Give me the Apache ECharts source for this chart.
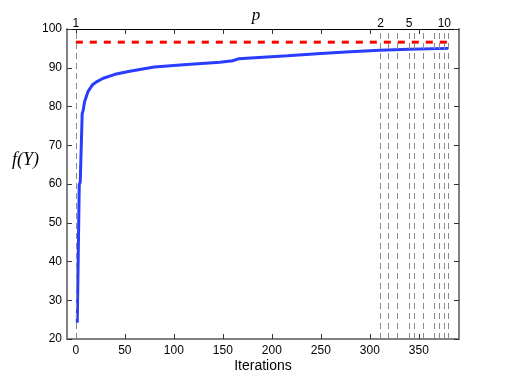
<!DOCTYPE html>
<html>
<head>
<meta charset="utf-8">
<script src="https://cdn.jsdelivr.net/npm/echarts@6/dist/echarts.min.js"></script>
<style>
  html, body { margin: 0; padding: 0; background: #fff; }
  #chart { width: 507px; height: 382px; }
</style>
</head>
<body>
<div id="chart"></div>
<script>
// objective over iterations
const iterX = [1.5, 3.5, 4.5, 6.5, 7.5, 9, 12.5, 17, 22, 28, 40, 55, 80, 110, 147, 160, 166, 191, 216, 250, 280, 310, 312, 340, 380];
const fY = [24.2, 59.8, 60.5, 78.2, 79, 81.3, 83.9, 85.6, 86.5, 87.3, 88.3, 89.1, 90.2, 90.8, 91.4, 91.8, 92.3, 92.7, 93.1, 93.7, 94.1, 94.5, 94.7, 94.8, 95.0];
// reference level (red dashed)
const refX = [0, 380];
const refY = [96.6, 96.6];
// iterations where p changes
const pIter = [0, 311, 319, 328, 340, 345, 355, 366, 371, 376, 380];
// labelled p values on top axis
const pLabelIter = [0, 311, 340, 376];
const pLabels = ['1', '2', '5', '10'];
const xTicks = [0, 50, 100, 150, 200, 250, 300, 350];

const font = 'Liberation Sans, Arial, sans-serif';
const grey = '#808080';

const chart = echarts.init(document.getElementById('chart'));

const option = {
  animation: false,
  grid: { left: 67, right: 48, top: 29, bottom: 43, outerBoundsMode: 'none', containLabel: false },
  xAxis: [
    {
      type: 'value', position: 'bottom', min: -9, max: 391,
      name: 'Iterations', nameLocation: 'middle', nameGap: 20, nameMoveOverlap: false,
      nameTextStyle: { fontFamily: font, fontSize: 14, color: '#000' },
      axisLine: { onZero: false, lineStyle: { color: grey, width: 2 } },
      axisTick: { inside: true, length: 5, customValues: xTicks, lineStyle: { color: '#333' } },
      axisLabel: { customValues: xTicks, margin: 6, fontFamily: font, fontSize: 12, color: '#000' },
      splitLine: { show: false }
    },
    {
      type: 'value', position: 'top', min: -9, max: 391,
      name: 'p', nameLocation: 'middle', nameGap: 5, nameMoveOverlap: false,
      nameTextStyle: { fontFamily: 'Liberation Serif, serif', fontStyle: 'italic', fontSize: 17, color: '#000', padding: [0, 14, 0, 0] },
      axisLine: { onZero: false, lineStyle: { color: '#000', width: 1 } },
      axisTick: { inside: true, length: 5, customValues: xTicks, lineStyle: { color: '#333' } },
      axisLabel: {
        customValues: pLabelIter, margin: -1, fontFamily: font, fontSize: 12, color: '#000',
        formatter: v => pLabels[pLabelIter.indexOf(v)]
      },
      splitLine: { show: false }
    }
  ],
  yAxis: [
    {
      type: 'value', position: 'left', min: 20, max: 100, interval: 10,
      axisLine: { show: true, onZero: false, lineStyle: { color: grey, width: 2 } },
      axisTick: { show: true, inside: true, length: 5, lineStyle: { color: '#333' } },
      axisLabel: { margin: 5, fontFamily: font, fontSize: 12, color: '#000' },
      splitLine: { show: false }
    },
    {
      type: 'value', position: 'right', min: 20, max: 100, interval: 10,
      axisLine: { show: true, onZero: false, lineStyle: { color: grey, width: 2 } },
      axisTick: { show: true, inside: true, length: 5, lineStyle: { color: '#333' } },
      axisLabel: { show: false },
      splitLine: { show: false }
    }
  ],
  graphic: [
    {
      type: 'text', left: 12, top: 151,
      style: { text: 'f(Y)', font: 'italic 18px Liberation Serif, serif', fill: '#000' }
    }
  ],
  series: [
    {
      type: 'line', xAxisIndex: 0, yAxisIndex: 0,
      data: refX.map((x, i) => [x, refY[i]]),
      showSymbol: false, silent: true,
      lineStyle: { color: '#ff0000', width: 3, type: [7, 7] },
      markLine: {
        silent: true, symbol: 'none', label: { show: false },
        lineStyle: { color: '#8a8a8a', width: 1, type: [6, 4] },
        data: pIter.map(x => ({ xAxis: x }))
      },
      z: 3
    },
    {
      type: 'line', xAxisIndex: 0, yAxisIndex: 0,
      data: iterX.map((x, i) => [x, fY[i]]),
      showSymbol: false,
      lineStyle: { color: '#2a3cff', width: 3 },
      z: 4
    }
  ]
};

chart.setOption(option);
</script>
</body>
</html>
